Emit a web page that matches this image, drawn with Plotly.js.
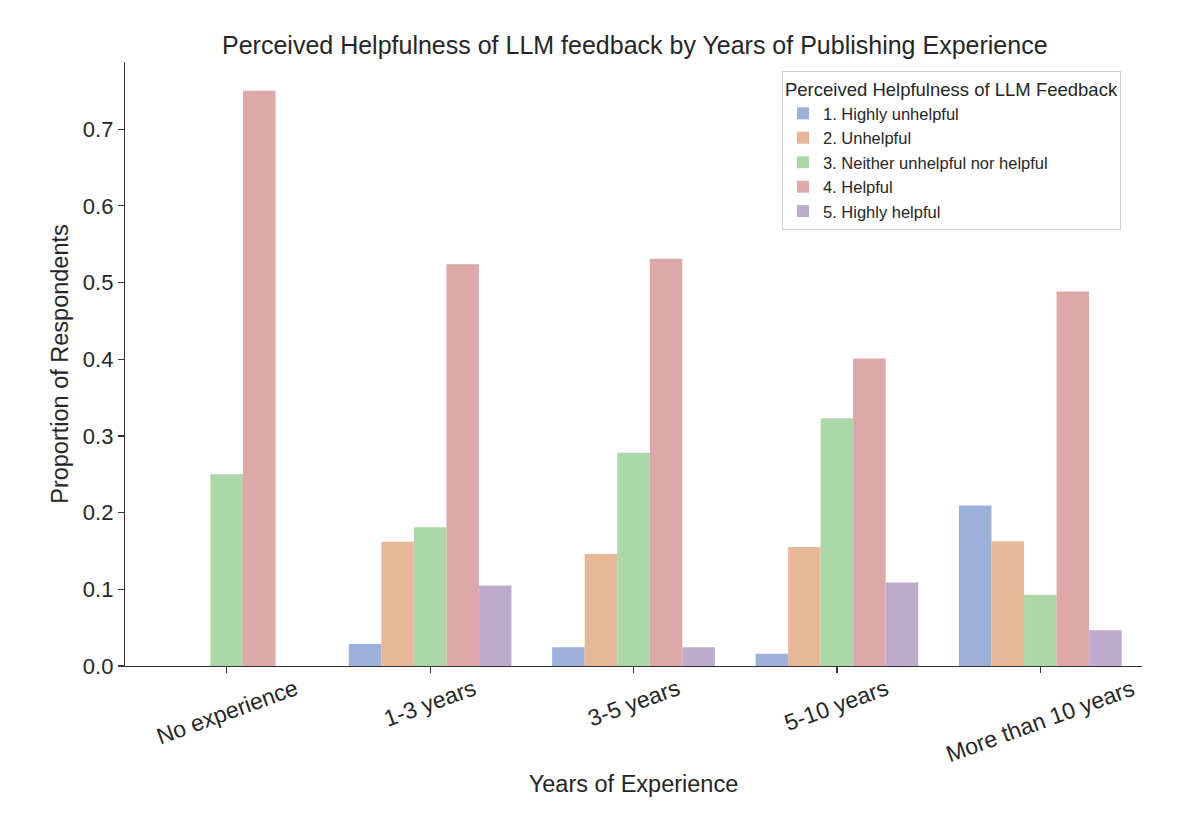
<!DOCTYPE html>
<html>
<head>
<meta charset="utf-8">
<script src="https://cdn.plot.ly/plotly-3.0.1.min.js"></script>
<style>html,body{margin:0;padding:0;background:#fff;}#chart{width:1200px;height:822px;}</style>
</head>
<body>
<div id="chart"></div>
<script>
const categories = ["No experience", "1-3 years", "3-5 years", "5-10 years", "More than 10 years"];
const seriesNames = ["1. Highly unhelpful", "2. Unhelpful", "3. Neither unhelpful nor helpful", "4. Helpful", "5. Highly helpful"];
const highlyUnhelpful = [0, 0.0286, 0.0244, 0.016, 0.2093];
const unhelpful = [0, 0.1619, 0.146, 0.155, 0.1628];
const neither = [0.25, 0.181, 0.278, 0.323, 0.093];
const helpful = [0.75, 0.5238, 0.531, 0.401, 0.4884];
const highlyHelpful = [0, 0.1048, 0.0244, 0.109, 0.0465];
const colors = ["#9cb0dc", "#e8b798", "#acd7a8", "#dea8a9", "#bdabcd"];

const seriesValues = [highlyUnhelpful, unhelpful, neither, helpful, highlyHelpful];
const traces = seriesValues.map((vals, i) => ({
  type: "bar",
  name: seriesNames[i],
  x: categories,
  y: vals,
  marker: {color: colors[i], line: {width: 0}},
  hoverinfo: "x+y+name"
}));

const FONT = "Liberation Sans, Arial, Helvetica, sans-serif";

const labelAnnotations = categories.map(c => ({
  x: c, xref: "x", y: -0.01, yref: "paper",
  text: c, showarrow: false, textangle: -20,
  xanchor: "center", yanchor: "top",
  font: {family: FONT, size: 23, color: "#262626"}
}));

const layout = {
  width: 1200, height: 822,
  paper_bgcolor: "#ffffff", plot_bgcolor: "#ffffff",
  margin: {l: 125, r: 58, t: 62, b: 156},
  font: {family: FONT, color: "#262626"},
  barmode: "group",
  bargap: 0.2, bargroupgap: 0,
  title: {
    text: "Perceived Helpfulness of LLM feedback by Years of Publishing Experience",
    font: {family: FONT, size: 25, color: "#262626"},
    x: 0.529, xanchor: "center", y: 1 - 45/822, yanchor: "middle"
  },
  xaxis: {
    type: "category",
    range: [-0.5, 4.5],
    showline: true, linecolor: "#333333", linewidth: 1.2,
    ticks: "outside", ticklen: 6, tickcolor: "#333333", tickwidth: 1.2,
    showticklabels: false,
    showgrid: false, zeroline: false,
    title: {text: "Years of Experience", font: {family: FONT, size: 23.5, color: "#262626"}, standoff: 103}
  },
  yaxis: {
    range: [0, 0.7875],
    dtick: 0.1, tick0: 0, tickformat: ".1f",
    showline: true, linecolor: "#333333", linewidth: 1.2,
    ticks: "outside", ticklen: 6, tickcolor: "#333333", tickwidth: 1.2,
    tickfont: {family: FONT, size: 22, color: "#262626"},
    showgrid: false, zeroline: false,
    title: {text: "Proportion of Respondents", font: {family: FONT, size: 23.5, color: "#262626"}, standoff: 7}
  },
  legend: {
    x: 0.646, xanchor: "left", y: 0.985, yanchor: "top",
    bgcolor: "rgba(255,255,255,0.9)", bordercolor: "#d0d0d0", borderwidth: 1,
    font: {family: FONT, size: 16.5, color: "#262626"},
    title: {text: "Perceived Helpfulness of LLM Feedback", font: {family: FONT, size: 18.5, color: "#262626"}, side: "top"},
    tracegroupgap: 0
  },
  annotations: labelAnnotations,
  showlegend: true
};

Plotly.newPlot("chart", traces, layout, {displayModeBar: false, staticPlot: true});
</script>
</body>
</html>
